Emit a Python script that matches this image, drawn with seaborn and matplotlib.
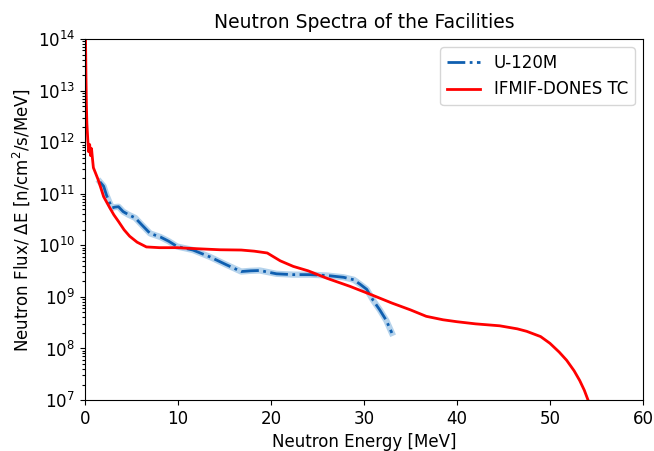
import numpy as np
import pandas as pd
import matplotlib
matplotlib.use("Agg")
import matplotlib.pyplot as plt
from matplotlib.ticker import NullFormatter
import seaborn as sns

# U-120M cyclotron spectrum
u120_energy = [1.6, 2.0, 2.3, 2.6, 2.9, 3.2, 3.6, 4.1, 4.7, 5.4, 6.1, 7.0, 8.1, 9.0, 9.9,
               11.6, 13.4, 15.2, 16.8, 17.8, 18.8, 20.6, 22.4, 24.2, 26.0, 27.8, 28.9,
               29.6, 30.3, 31.0, 31.7, 32.4, 33.0]
u120_flux = [1.7e11, 1.4e11, 9.5e10, 7.0e10, 5.3e10, 5.5e10, 5.6e10, 4.5e10, 3.9e10,
             3.4e10, 2.5e10, 1.7e10, 1.45e10, 1.2e10, 9.5e9, 8.1e9, 6.0e9, 4.2e9,
             3.1e9, 3.2e9, 3.25e9, 2.8e9, 2.7e9, 2.7e9, 2.6e9, 2.4e9, 2.15e9, 1.75e9,
             1.4e9, 8.5e8, 5.6e8, 3.5e8, 2.0e8]

# IFMIF-DONES test cell spectrum
dones_energy = [0.01, 0.05, 0.1, 0.15, 0.2, 0.3, 0.4, 0.5, 0.6, 0.7, 0.8, 0.9, 1.1, 1.4,
                1.7, 2.0, 2.4, 2.7, 3.1, 3.6, 4.2, 4.8, 5.6, 6.6, 8.0, 9.9, 12.0, 14.5,
                16.8, 18.2, 19.6, 21.0, 22.4, 24.0, 26.0, 28.5, 30.8, 33.0, 35.0, 36.7,
                38.5, 40.0, 42.0, 44.6, 46.5, 47.5, 49.0, 50.0, 51.0, 51.8, 52.6, 53.2,
                53.7, 54.1]
dones_flux = [1e15, 1.2e14, 2e13, 5e12, 2.3e12, 1.1e12, 6.5e11, 9e11, 5.5e11, 7.5e11,
              4.8e11, 3.2e11, 2.6e11, 1.9e11, 1.3e11, 8.8e10, 6.5e10, 5.2e10, 3.9e10,
              2.9e10, 2.0e10, 1.5e10, 1.15e10, 9.3e9, 9.0e9, 9.0e9, 8.6e9, 8.2e9,
              8.1e9, 7.7e9, 7.1e9, 5.0e9, 3.9e9, 3.2e9, 2.3e9, 1.6e9, 1.1e9, 7.6e8,
              5.6e8, 4.2e8, 3.6e8, 3.3e8, 3.0e8, 2.75e8, 2.4e8, 2.15e8, 1.7e8, 1.26e8,
              8.5e7, 5.9e7, 3.7e7, 2.4e7, 1.55e7, 1.0e7]

x_ticks = [0, 10, 20, 30, 40, 50, 60]
y_decades = list(range(7, 15))

u120 = pd.DataFrame({"energy": u120_energy, "flux": u120_flux})
dones = pd.DataFrame({"energy": dones_energy, "flux": dones_flux})

plt.rcParams["font.family"] = ["DejaVu Sans"]
plt.rcParams["font.size"] = 12

fig = plt.figure(figsize=(6.54, 4.51), dpi=100)
ax = fig.add_axes([0.13, 0.113, 0.853, 0.8005])

# light halo under the U-120M line
sns.lineplot(data=u120, x="energy", y="flux", ax=ax, color="#b5d3ec",
             linewidth=4.5, legend=False, sort=False)
sns.lineplot(data=u120, x="energy", y="flux", ax=ax, color="#0f5fb0",
             linewidth=2, linestyle="-.", label="U-120M", sort=False)
sns.lineplot(data=dones, x="energy", y="flux", ax=ax, color="#ff0000",
             linewidth=2, label="IFMIF-DONES TC", sort=False)

ax.set_yscale("log")
ax.set_xlim(0, 60)
ax.set_ylim(1e7, 1e14)
ax.set_xticks(x_ticks)
ax.set_yticks([10.0 ** d for d in y_decades])
ax.set_yticklabels([f"$10^{{{d}}}$" for d in y_decades])
ax.set_yticks([m * 10.0 ** d for d in y_decades[:-1] for m in range(2, 10)], minor=True)
ax.yaxis.set_minor_formatter(NullFormatter())
ax.tick_params(which="major", labelsize=12, length=3.5, width=0.8, colors="black")
ax.tick_params(axis="y", which="minor", length=2.2, width=0.8, colors="black")
ax.set_title("Neutron Spectra of the Facilities", fontsize=13.5, pad=8)
ax.set_xlabel("Neutron Energy [MeV]", fontsize=12)
ax.set_ylabel("Neutron Flux/ ΔE [n/cm$^2$/s/MeV]", fontsize=12)
ax.grid(False)
for s in ax.spines.values():
    s.set_color("black")
    s.set_linewidth(0.8)
ax.legend(loc="upper right", fontsize=12, frameon=True)

fig.savefig("out.png", dpi=100)
